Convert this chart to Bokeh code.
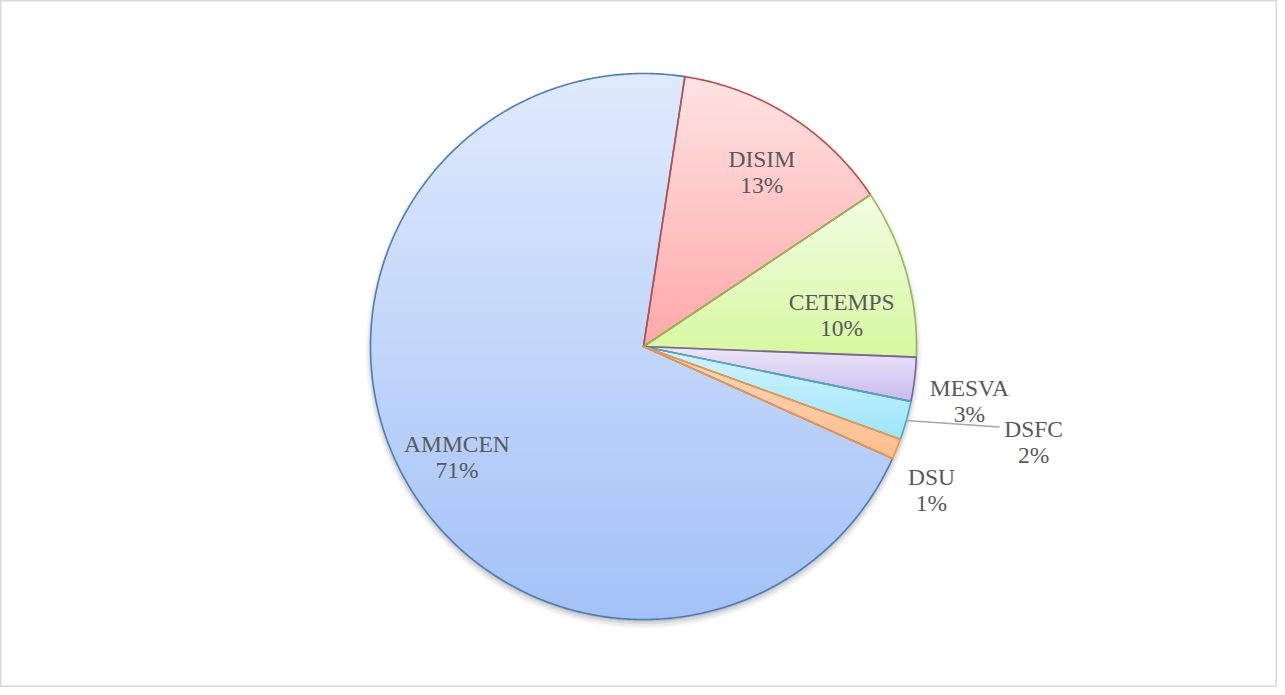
import numpy as np
from bokeh.plotting import figure
from bokeh.models import Range1d
from bokeh.core.properties import value
from bokeh.embed import file_html
from bokeh.resources import INLINE

# ---- data ----
CATEGORIES = ["AMMCEN", "DISIM", "CETEMPS", "MESVA", "DSFC", "DSU"]
VALUES = [70.7, 13.2, 10.0, 2.6, 2.3, 1.2]

# ---- style ----
START_DEG = 114.2  # clockwise from 12 o'clock
EDGE_COLORS = ["#4a7ebb", "#be4b48", "#98b954", "#7d60a0", "#46aac5", "#f69240"]
GRAD_TOP = ["#e0eafc", "#ffe3e3", "#f2fde4", "#ede7f8", "#d2f4fd", "#ffd8ba"]
GRAD_BOTTOM = ["#a3c2f8", "#ffa8a8", "#d6f89f", "#c9bbee", "#9de5fb", "#ffbd8c"]
LABEL_RFRAC = [0.795, 0.772, 0.735, 1.21, 1.471, 1.179]
LABEL_DDEG = [-2.2, 1.65, 6.7, 2.5, -2.0, 4.5]
LEADER = [False, False, False, False, True, False]
TEXT_COLOR = "#595959"
FONT = "Liberation Serif"
FONT_SIZE = "23.5px"

W, H = 1277, 687
CX, CY, R = 643, 346, 273


def pt(deg, r):
    a = np.radians(deg)
    return CX + r * np.sin(a), CY - r * np.cos(a)


def hex2rgb(h):
    h = h.lstrip("#")
    return np.array([int(h[i:i + 2], 16) for i in (0, 2, 4)], dtype=float)


def mix(c0, c1, t):
    c = hex2rgb(c0) * (1 - t) + hex2rgb(c1) * t
    return "#%02x%02x%02x" % tuple(int(round(v)) for v in c)


def clip(poly, y0, keep_ge):
    out = []
    n = len(poly)
    for i in range(n):
        cur = poly[i]
        prev = poly[i - 1]
        cin = cur[1] >= y0 if keep_ge else cur[1] <= y0
        pin = prev[1] >= y0 if keep_ge else prev[1] <= y0
        if cin:
            if not pin:
                t = (y0 - prev[1]) / (cur[1] - prev[1])
                out.append((prev[0] + t * (cur[0] - prev[0]), y0))
            out.append(cur)
        elif pin:
            t = (y0 - prev[1]) / (cur[1] - prev[1])
            out.append((prev[0] + t * (cur[0] - prev[0]), y0))
    return out


p = figure(width=W, height=H, output_backend="svg", toolbar_location=None,
           x_range=Range1d(0, W), y_range=Range1d(H, 0),
           min_border=0, background_fill_color="white", border_fill_color="white")
p.axis.visible = False
p.grid.visible = False
p.outline_line_color = "#d9d9d9"
p.outline_line_width = 2

# shadow
for rr, dy, al in [(R + 5, 4, 0.03), (R + 3, 4, 0.05), (R + 1.5, 3, 0.08), (R, 2, 0.12)]:
    p.circle(x=[CX], y=[CY + dy], radius=rr, fill_color="black", fill_alpha=al, line_color=None)

total = float(sum(VALUES))
angles = []
a = START_DEG
for v in VALUES:
    span = v / total * 360.0
    angles.append((a, a + span))
    a += span

polys = []
for (a0, a1) in angles:
    n = max(4, int((a1 - a0) / 0.4))
    th = np.linspace(a0, a1, n)
    pts = [(CX, CY)] + [pt(t, R) for t in th]
    polys.append(pts)

# gradient fills
bx, by, bc = [], [], []
for i, poly in enumerate(polys):
    ys = [q[1] for q in poly]
    ymin, ymax = min(ys), max(ys)
    nb = max(2, int((ymax - ymin) / 3))
    edges = np.linspace(ymin, ymax, nb + 1)
    for k in range(nb):
        y0, y1 = edges[k] - 0.6, edges[k + 1] + 0.6
        c = clip(poly, y0, True)
        if len(c) < 3:
            continue
        c = clip(c, y1, False)
        if len(c) < 3:
            continue
        t = ((edges[k] + edges[k + 1]) / 2 - ymin) / (ymax - ymin)
        bx.append([q[0] for q in c])
        by.append([q[1] for q in c])
        bc.append(mix(GRAD_TOP[i], GRAD_BOTTOM[i], t))
p.patches(xs=bx, ys=by, fill_color=bc, line_color=None)

# outlines
for i, poly in enumerate(polys):
    p.patches(xs=[[q[0] for q in poly]], ys=[[q[1] for q in poly]],
              fill_alpha=0, line_color=EDGE_COLORS[i], line_width=1.6, line_join="round")

# labels
tot_rounded = [int(round(v / total * 100)) for v in VALUES]
for i, name in enumerate(CATEGORIES):
    a0, a1 = angles[i]
    mid = (a0 + a1) / 2
    lx, ly = pt(mid + LABEL_DDEG[i], LABEL_RFRAC[i] * R)
    if LEADER[i]:
        sx, sy = pt(mid, R)
        p.line(x=[sx, lx - 34], y=[sy, ly - 15], line_color="#a6a6a6", line_width=1.5)
    p.text(x=[lx], y=[ly - 13], text=[name], text_align="center", text_baseline="alphabetic",
           text_font=value(FONT), text_font_size=FONT_SIZE, text_color=TEXT_COLOR)
    p.text(x=[lx], y=[ly + 13], text=["%d%%" % tot_rounded[i]], text_align="center",
           text_baseline="alphabetic", text_font=value(FONT), text_font_size=FONT_SIZE,
           text_color=TEXT_COLOR)

open("out.html", "w").write(file_html(p, INLINE))
